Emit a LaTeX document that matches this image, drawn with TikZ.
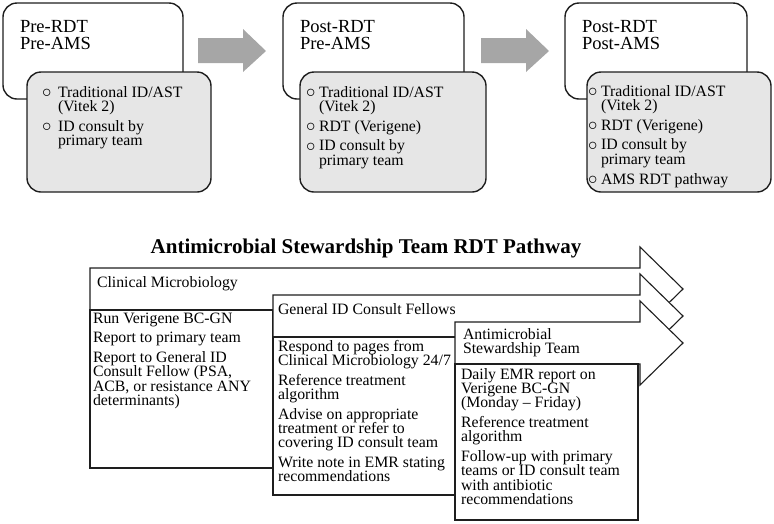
\documentclass[tikz,border=0pt]{standalone}
\usepackage{fontspec}
\usepackage{graphicx}
\setmainfont{Liberation Serif}
\definecolor{ln}{HTML}{1E1E1E}
\definecolor{greybox}{HTML}{E6E6E6}
\definecolor{greyarrow}{HTML}{A6A6A6}
\newcommand{\txtblock}[2]{\begin{minipage}[t]{#1}\fontsize{15.8}{14.3}\selectfont\lineskiplimit=-20pt\lineskip=0pt\parskip=5.5pt\raggedright #2\end{minipage}}
\newcommand{\headblock}[2]{\begin{minipage}[t]{#1}\fontsize{18.5}{17}\selectfont\lineskiplimit=-20pt\lineskip=0pt\raggedright #2\end{minipage}}
\newcommand{\ring}{\raisebox{-0.8pt}{\scalebox{1.3}{$\circ$}}}
\newcommand{\bitem}[2]{\par\hangindent=#1\hangafter=1\noindent\makebox[#1][l]{\ring}#2\par}
\newcommand{\pitem}[1]{\par\noindent #1\par}
\tikzset{
  txt/.style={anchor=base west, inner sep=0pt, outer sep=0pt},
  whitebox/.style={draw=ln, line width=1.4pt, fill=white, rounded corners=14pt},
  greyround/.style={draw=ln, line width=1.4pt, fill=greybox, rounded corners=14pt},
  greyarr/.style={fill=greyarrow, draw=none},
  outline/.style={draw=ln, line width=1.1pt, fill=white, line join=miter},
}
\begin{document}
\begin{tikzpicture}[x=1pt,y=-1pt]
\useasboundingbox (0,0) rectangle (774,523);
% ---------- top row ----------
\draw[whitebox] (3,3) rectangle (183,99);
\draw[greyround] (27,72) rectangle (211,192);
\draw[whitebox] (283,3) rectangle (464,99);
\draw[greyround] (300,72) rectangle (486,192);
\draw[whitebox] (565,3) rectangle (747,99);
\draw[greyround] (587,72) rectangle (771,192);
\fill[greyarr] (198,38) -- (243,38) -- (243,29) -- (266,51) -- (243,72) -- (243,63) -- (198,63) -- cycle;
\fill[greyarr] (481,38) -- (526,38) -- (526,29) -- (549,51) -- (526,72) -- (526,63) -- (481,63) -- cycle;
\node[txt] (h1) at (20,32) {\headblock{150pt}{Pre-RDT\newline Pre-AMS}};
\node[txt] (h2) at (300,32) {\headblock{150pt}{Post-RDT\newline Pre-AMS}};
\node[txt] (h3) at (582,32) {\headblock{150pt}{Post-RDT\newline Post-AMS}};
\node[txt] (l1) at (42,97) {\txtblock{175pt}{\bitem{16pt}{Traditional ID/AST\newline (Vitek 2)}\bitem{16pt}{ID consult by\newline primary team}}};
\node[txt] (l2) at (306,97) {\txtblock{175pt}{\bitem{13pt}{Traditional ID/AST\newline (Vitek 2)}\bitem{13pt}{RDT (Verigene)}\bitem{13pt}{ID consult by\newline primary team}}};
\node[txt] (l3) at (588,96) {\txtblock{175pt}{\bitem{13pt}{Traditional ID/AST\newline (Vitek 2)}\bitem{13pt}{RDT (Verigene)}\bitem{13pt}{ID consult by\newline primary team}\bitem{13pt}{AMS RDT pathway}}};
% ---------- title ----------
\node[anchor=base, inner sep=0pt, font=\fontsize{21}{24}\selectfont\bfseries] (title) at (366,253) {Antimicrobial Stewardship Team RDT Pathway};
% ---------- pathway ----------
\draw[outline] (90,268) -- (640,268) -- (640,247) -- (683,289) -- (640,331) -- (640,310) -- (90,310) -- cycle;
\draw[outline] (90,310) rectangle (273,468);
\draw[outline] (273,295) -- (640,295) -- (640,274) -- (683,316) -- (640,358) -- (640,337) -- (273,337) -- cycle;
\draw[outline] (273,337) rectangle (500,495);
\draw[outline] (455,322) -- (640,322) -- (640,301) -- (683,343) -- (640,385) -- (640,364) -- (455,364) -- cycle;
\draw[outline] (455,364) rectangle (638,520);
\node[txt] (cmh) at (97,287) {\txtblock{200pt}{Clinical Microbiology}};
\node[txt] (gih) at (278,314) {\txtblock{200pt}{General ID Consult Fellows}};
\node[txt] (amh) at (463,339) {\txtblock{170pt}{Antimicrobial\newline Stewardship Team}};
\node[txt] (cmb) at (93,323) {\txtblock{200pt}{\pitem{Run Verigene BC-GN}\pitem{Report to primary team}\pitem{Report to General ID\newline Consult Fellow (PSA,\newline ACB, or resistance ANY\newline determinants)}}};
\node[txt] (gib) at (278,351) {\txtblock{200pt}{\pitem{Respond to pages from\newline Clinical Microbiology 24/7}\pitem{Reference treatment\newline algorithm}\pitem{Advise on appropriate\newline treatment or refer to\newline covering ID consult team}\pitem{Write note in EMR stating\newline recommendations}}};
\node[txt] (amb) at (461,379) {\txtblock{200pt}{\pitem{Daily EMR report on\newline Verigene BC-GN\newline (Monday – Friday)}\pitem{Reference treatment\newline algorithm}\pitem{Follow-up with primary\newline teams or ID consult team\newline with antibiotic\newline recommendations}}};
\end{tikzpicture}
\end{document}
